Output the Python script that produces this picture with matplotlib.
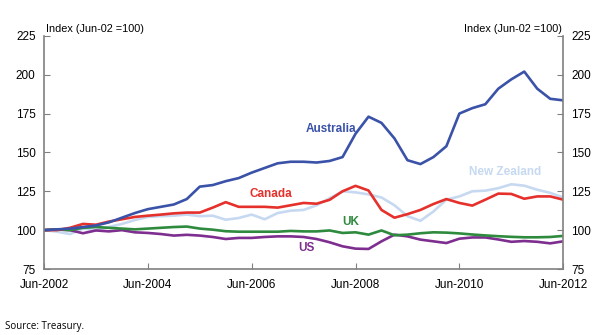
import matplotlib.pyplot as plt
import numpy as np

plt.rcParams['font.family'] = ['Liberation Sans', 'DejaVu Sans']

# quarterly, Jun-2002 to Jun-2012
tick_labels = ['Jun-2002', 'Jun-2004', 'Jun-2006', 'Jun-2008', 'Jun-2010', 'Jun-2012']

australia = [100, 100.5, 101, 102, 103, 105, 108, 111, 113.5, 115, 116.5, 120, 128, 129, 131.5,
             133.5, 137, 140, 143, 144, 144, 143.5, 144.5, 147, 162, 173, 169, 159, 145, 142.5,
             147, 154, 175, 178.5, 181, 191, 197, 202, 191, 184.5, 183.5]
canada = [100, 100, 101.5, 104, 103.5, 105.5, 107, 108.5, 109.3, 110, 110.8, 111.3, 111.3, 114.5,
          118, 115, 115, 115, 114.5, 116, 117.5, 117, 119.5, 125, 128.5, 125.5, 113, 108, 110.3,
          113, 116.8, 120, 117.5, 115.8, 119.6, 123.5, 123.3, 120.2, 121.7, 121.7, 119.6]
new_zealand = [100, 99, 97.5, 101, 100, 102, 104, 106.5, 108.5, 109, 109.3, 110, 109, 109.3, 106.7,
               107.8, 110, 107, 111, 112.5, 113, 116, 120.5, 125, 124.3, 123, 121, 116, 109, 106,
               112, 119.6, 121.7, 125, 125.4, 127, 129.5, 128.6, 126, 124, 121]
uk = [100, 100.5, 100, 101.5, 102, 101.5, 101, 100.5, 101, 101.5, 102, 102.3, 101, 100.3, 99.3,
      99, 99, 99, 99, 99.5, 99.2, 99.2, 99.8, 98.2, 98.6, 97.1, 99.8, 96.7, 97.1, 98, 98.6, 98.4,
      97.9, 97.2, 96.6, 96.1, 95.7, 95.4, 95.4, 95.6, 96.3]
us = [100, 100.5, 100, 98, 99.8, 99.2, 100, 98.6, 98.2, 97.5, 96.5, 97, 96.5, 95.6, 94.3, 95, 95,
      95.6, 96, 96, 95.6, 94.3, 92.2, 89.6, 88.1, 87.9, 92.8, 97.1, 96, 93.9, 92.8, 91.7, 94.5,
      95.3, 95.3, 94, 92.5, 93, 92.5, 91.5, 92.8]

x = np.arange(len(australia))

fig = plt.figure(figsize=(6.03, 3.35), dpi=100)
ax = fig.add_axes([0.073, 0.197, 0.861, 0.696])

ax.plot(x, new_zealand, color='#c6d9f1', lw=1.9)
ax.plot(x, us, color='#7d2e8f', lw=1.9)
ax.plot(x, uk, color='#2e8b3e', lw=1.9)
ax.plot(x, canada, color='#e5302b', lw=1.9)
ax.plot(x, australia, color='#3a52a8', lw=1.9)

ax.text(22.1, 165.3, 'Australia', color='#3a52a8', fontsize=8.5, fontweight='bold', ha='center', va='center')
ax.text(17.5, 123.5, 'Canada', color='#e5302b', fontsize=8.5, fontweight='bold', ha='center', va='center')
ax.text(35.5, 137.6, 'New Zealand', color='#c6d9f1', fontsize=8.5, fontweight='bold', ha='center', va='center')
ax.text(23.6, 105.5, 'UK', color='#2e8b3e', fontsize=8.5, fontweight='bold', ha='center', va='center')
ax.text(20.2, 88.7, 'US', color='#7d2e8f', fontsize=8.5, fontweight='bold', ha='center', va='center')

ax.set_xlim(0, 40)
ax.set_ylim(75, 225)
ax.set_yticks(np.arange(75, 226, 25))
ax.set_xticks(np.arange(0, 41, 8))
ax.set_xticklabels(tick_labels)

ax.spines['top'].set_visible(False)
for s in ['left', 'right', 'bottom']:
    ax.spines[s].set_color('#808080')
    ax.spines[s].set_linewidth(1.2)
ax.tick_params(axis='y', direction='in', left=True, right=True, labelleft=True, labelright=True,
               length=4, color='#808080', labelsize=8.5, pad=6)
ax.tick_params(axis='x', direction='in', length=4, color='#808080', labelsize=8.5, pad=7)

fig.text(0.077, 0.913, 'Index (Jun-02 =100)', fontsize=7.8, ha='left', va='center')
fig.text(0.932, 0.913, 'Index (Jun-02 =100)', fontsize=7.8, ha='right', va='center')
fig.text(0.008, 0.024, 'Source: Treasury.', fontsize=7, family=['Open Sans', 'DejaVu Sans'], ha='left', va='center')

fig.savefig('out.png', dpi=100)
